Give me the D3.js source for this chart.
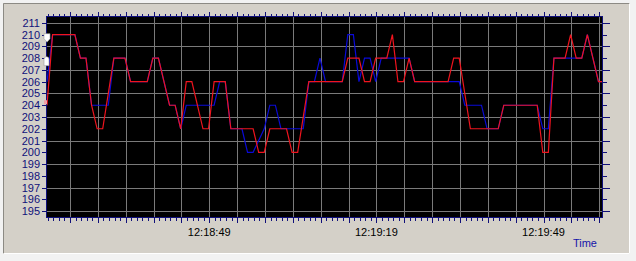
<!DOCTYPE html>
<html>
<head>
<meta charset="utf-8">
<script src="https://cdn.jsdelivr.net/npm/d3@7"></script>
<style>
  html, body { margin: 0; padding: 0; background: #f2f2f2; }
  svg { display: block; font-family: "Liberation Sans", Arial, sans-serif; }
</style>
</head>
<body>
<div id="chart"></div>
<script>
// Trend recorder: two sampled values over ~100 s, red drawn over blue.

// one sample per second starting at startTime
const startTime = "12:18:19.870";
const endTime = "12:19:59.500";

const blueValues = [
  206, 210, 210, 210, 210, 210, 208, 208, 204, 204,
  204, 204, 208, 208, 208, 206, 206, 206, 206, 208,
  208, 206, 204, 204, 202, 204, 204, 204, 204, 204,
  204, 206, 206, 202, 202, 202, 200, 200, 201, 202,
  204, 204, 202, 202, 202, 202, 202, 206, 206, 208,
  206, 206, 206, 206, 210, 210, 206, 208, 208, 206,
  208, 208, 208, 208, 208, 208, 206, 206, 206, 206,
  206, 206, 206, 206, 206, 204, 204, 204, 204, 202,
  202, 202, 204, 204, 204, 204, 204, 204, 204, 202,
  202, 208, 208, 208, 208, 208, 208, 210, 208, 206,
  206
];

const redValues = [
  204, 210, 210, 210, 210, 210, 208, 208, 204, 202,
  202, 205, 208, 208, 208, 206, 206, 206, 206, 208,
  208, 206, 204, 204, 202, 206, 206, 204, 202, 202,
  206, 206, 206, 202, 202, 202, 202, 202, 200, 200,
  202, 202, 202, 202, 200, 200, 203, 206, 206, 206,
  206, 206, 206, 206, 208, 208, 208, 206, 206, 208,
  208, 208, 210, 206, 206, 208, 206, 206, 206, 206,
  206, 206, 206, 208, 208, 205, 202, 202, 202, 202,
  202, 202, 204, 204, 204, 204, 204, 204, 204, 200,
  200, 208, 208, 208, 210, 208, 208, 210, 208, 206,
  206
];

const yTickValues = d3.range(195, 212);
const yGridValues = [195, 197, 199, 201, 203, 205, 207, 209, 211];
const timeLabels = ["12:18:49", "12:19:19", "12:19:49"];
const markerValues = [210, 208];

const W = 636, H = 261;
const m = { l: 47, r: 34, t: 17, b: 44 };
const parseMs = d3.timeParse("%H:%M:%S.%L");
const parseS = d3.timeParse("%H:%M:%S");
const t0 = parseMs(startTime), t1 = parseMs(endTime);

const svg = d3.select("#chart").append("svg").attr("width", W).attr("height", H);

// window frame
svg.append("rect").attr("x", 3).attr("y", 3).attr("width", 627).attr("height", 251).attr("fill", "#d4d0c8");
svg.append("path").attr("d", "M3.5,253.5V3.5H629.5").attr("fill", "none").attr("stroke", "#8c8a84");
svg.append("path").attr("d", "M3.5,253.5H629.5V3.5").attr("fill", "none").attr("stroke", "#ffffff");

const x = d3.scaleTime().domain([t0, t1]).range([m.l, W - m.r]);
const y = d3.scaleLinear().domain([194.5, 211.5]).range([H - m.b, m.t]);
const [x0, x1] = x.range(), [y0, y1] = [y.range()[1], y.range()[0]];

svg.append("rect").attr("x", x0).attr("y", y0).attr("width", x1 - x0).attr("height", y1 - y0).attr("fill", "#000");

const seconds = d3.timeSecond.range(d3.timeSecond.ceil(t0), t1);
const major = seconds.filter((d) => d.getSeconds() % 5 === 4);

// grid
svg.append("g").selectAll("line").data(yGridValues).join("line")
  .attr("x1", x0).attr("x2", x1).attr("y1", (d) => Math.round(y(d)) + 0.5).attr("y2", (d) => Math.round(y(d)) + 0.5)
  .attr("stroke", "#7a7a7a");
svg.append("g").selectAll("line").data(major).join("line")
  .attr("y1", y0).attr("y2", y1).attr("x1", (d) => Math.round(x(d)) + 0.5).attr("x2", (d) => Math.round(x(d)) + 0.5)
  .attr("stroke", "#7a7a7a");

// series
svg.append("clipPath").attr("id", "plot").append("rect")
  .attr("x", x0).attr("y", y0).attr("width", x1 - x0).attr("height", y1 - y0);
const timeAt = (i) => new Date(+t0 + i * 1000);
const line = d3.line().x((d, i) => x(timeAt(i))).y((d) => y(d));
const g = svg.append("g").attr("clip-path", "url(#plot)");
g.append("path").datum(blueValues).attr("fill", "none").attr("stroke", "#0a0ad8").attr("stroke-width", 1.2).attr("d", line);
g.append("path").datum(redValues).attr("fill", "none").attr("stroke", "#f0141e").attr("stroke-width", 1.2).attr("d", line);

// axes frame + ticks
const navy = "#10107a";
svg.append("rect").attr("x", x0 - 0.5).attr("y", y0 - 0.5).attr("width", x1 - x0 + 1).attr("height", y1 - y0 + 1)
  .attr("fill", "none").attr("stroke", navy);

const tickLen = (d) => (d.getSeconds() % 5 === 4 ? 5 : 3);
svg.append("g").selectAll("line").data(seconds).join("line")
  .attr("x1", (d) => Math.round(x(d)) + 0.5).attr("x2", (d) => Math.round(x(d)) + 0.5)
  .attr("y1", y1).attr("y2", (d) => y1 + tickLen(d) + 1).attr("stroke", navy);
svg.append("g").selectAll("line").data(seconds).join("line")
  .attr("x1", (d) => Math.round(x(d)) + 0.5).attr("x2", (d) => Math.round(x(d)) + 0.5)
  .attr("y1", y0).attr("y2", (d) => y0 - tickLen(d)).attr("stroke", navy);

svg.append("g").selectAll("line").data(yTickValues).join("line")
  .attr("x1", x0 - 5).attr("x2", x0).attr("y1", (d) => Math.round(y(d)) + 0.5).attr("y2", (d) => Math.round(y(d)) + 0.5)
  .attr("stroke", navy);
svg.append("g").selectAll("line").data(yTickValues).join("line")
  .attr("x1", x1).attr("x2", (d) => x1 + (d % 2 ? 8 : 5)).attr("y1", (d) => Math.round(y(d)) + 0.5).attr("y2", (d) => Math.round(y(d)) + 0.5)
  .attr("stroke", navy);

svg.append("g").selectAll("text").data(yTickValues).join("text")
  .attr("x", x0 - 7).attr("y", (d) => y(d) + 4).attr("text-anchor", "end")
  .attr("fill", navy).style("font-size", "11px").text((d) => d);

svg.append("g").selectAll("text").data(timeLabels).join("text")
  .attr("x", (d) => x(new Date(t0.getFullYear(), t0.getMonth(), t0.getDate(), ...d.split(":").map(Number))))
  .attr("y", 236).attr("text-anchor", "middle").attr("fill", "#000").style("font-size", "11px").text((d) => d);

svg.append("text").attr("x", 597).attr("y", 247).attr("text-anchor", "end")
  .attr("fill", "#1515a8").style("font-size", "11px").text("Time");

// value markers on the left axis
const mk = svg.append("g").attr("fill", "#fff").attr("stroke", "#9a9a9a").attr("stroke-width", 0.6);
mk.append("path").attr("d", `M44,${y(markerValues[0]) - 1}h6v5l-3,3.5l-3,-3.5z`);
mk.append("path").attr("d", `M44,${y(markerValues[1]) + 1}q0,-2.5 2.5,-2.5q2.5,0 2.5,2.5v6.5h-5z`);
svg.append("rect").attr("x", 44).attr("y", y(redValues[0]) - 5).attr("width", 3).attr("height", 4).attr("fill", "#f0a0a8");
</script>
</body>
</html>
